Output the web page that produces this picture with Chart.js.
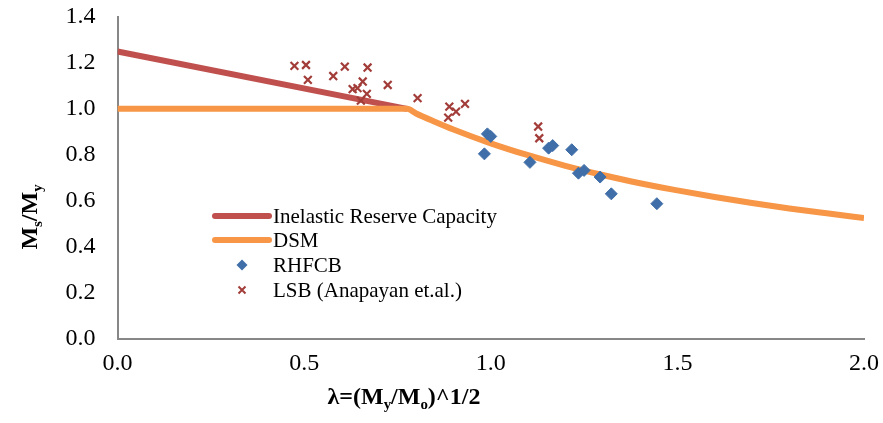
<!DOCTYPE html>
<html>
<head>
<meta charset="utf-8">
<script src="https://cdn.jsdelivr.net/npm/chart.js@4.4.0/dist/chart.umd.min.js"></script>
<style>
    body { margin: 0; background: #fff; }
    #wrap { width: 883px; height: 423px; }
</style>
</head>
<body>
<div id="wrap"><canvas id="msChart" width="883" height="423"></canvas></div>
<script>
// Inelastic Reserve Capacity line
var irX = [0, 0.776];
var irY = [1.25, 1.0];

// DSM curve
var dsmX = [0, 0.776, 0.8, 0.85, 0.9, 1.0, 1.1, 1.2, 1.3, 1.4, 1.5, 1.6, 1.7, 1.8, 1.9, 2.0];
var dsmY = [1.0, 1.0, 0.98, 0.944, 0.91, 0.85, 0.798, 0.752, 0.712, 0.676, 0.645, 0.616, 0.590, 0.566, 0.545, 0.525];

// RHFCB test results
var rhfcbX = [0.983, 0.991, 1.0, 1.105, 1.155, 1.166, 1.217, 1.235, 1.25, 1.293, 1.323, 1.445];
var rhfcbY = [0.804, 0.891, 0.88, 0.767, 0.829, 0.84, 0.822, 0.72, 0.732, 0.703, 0.63, 0.587];

// LSB (Anapayan et.al.)
var lsbX = [0.474, 0.505, 0.51, 0.578, 0.609, 0.67, 0.657, 0.63, 0.643, 0.668, 0.652, 0.724, 0.804, 0.889, 0.907, 0.931, 0.886, 1.127, 1.13];
var lsbY = [1.187, 1.191, 1.126, 1.143, 1.184, 1.18, 1.119, 1.086, 1.09, 1.065, 1.036, 1.104, 1.047, 1.01, 0.988, 1.022, 0.962, 0.923, 0.872];

var xTicks = [0, 0.5, 1.0, 1.5, 2.0];
var yTicks = [0, 0.2, 0.4, 0.6, 0.8, 1.0, 1.2, 1.4];

var seriesNames = ['Inelastic Reserve Capacity', 'DSM', 'RHFCB', 'LSB (Anapayan et.al.)'];

function toPoints(xs, ys) {
    return xs.map(function(x, i) { return {x: x, y: ys[i]}; });
}

var serif = '"Liberation Serif", "Times New Roman", serif';

// draws text pieces, some of them as subscripts
function drawRich(ctx, parts, size, x, y) {
    var total = 0;
    parts.forEach(function(p) {
        ctx.font = 'bold ' + (p.sub ? size * 0.62 : size) + 'px ' + serif;
        p.w = ctx.measureText(p.t).width;
        total += p.w;
    });
    var cx = x - total / 2;
    parts.forEach(function(p) {
        ctx.font = 'bold ' + (p.sub ? size * 0.62 : size) + 'px ' + serif;
        ctx.fillText(p.t, cx, p.sub ? y + size * 0.22 : y);
        cx += p.w;
    });
}

var axisTitles = {
    id: 'axisTitles',
    afterDraw: function(chart) {
        var ctx = chart.ctx;
        ctx.save();
        ctx.fillStyle = '#000';
        ctx.textBaseline = 'alphabetic';
        ctx.textAlign = 'left';
        drawRich(ctx, [
            {t: 'λ=(M'}, {t: 'y', sub: true}, {t: '/M'}, {t: 'o', sub: true}, {t: ')^1/2'}
        ], 24, 404, 404);
        ctx.translate(37, 217);
        ctx.rotate(-Math.PI / 2);
        drawRich(ctx, [
            {t: 'M'}, {t: 's', sub: true}, {t: '/M'}, {t: 'y', sub: true}
        ], 24, 0, 0);
        ctx.restore();
    }
};

var innerLegend = {
    id: 'innerLegend',
    afterDraw: function(chart) {
        var ctx = chart.ctx;
        var rows = [216, 240, 265, 290];
        ctx.save();
        ctx.font = '21px ' + serif;
        ctx.textBaseline = 'middle';
        ctx.textAlign = 'left';
        chart.data.datasets.forEach(function(ds, i) {
            var y = rows[i];
            if (ds.type === 'line') {
                ctx.strokeStyle = ds.borderColor;
                ctx.lineWidth = 6;
                ctx.lineCap = 'round';
                ctx.beginPath();
                ctx.moveTo(215, y);
                ctx.lineTo(269, y);
                ctx.stroke();
            } else if (ds.pointStyle === 'rectRot') {
                ctx.fillStyle = ds.backgroundColor;
                ctx.beginPath();
                ctx.moveTo(242, y - 5.5);
                ctx.lineTo(247.5, y);
                ctx.lineTo(242, y + 5.5);
                ctx.lineTo(236.5, y);
                ctx.closePath();
                ctx.fill();
            } else {
                ctx.strokeStyle = ds.borderColor;
                ctx.lineWidth = 2;
                ctx.lineCap = 'butt';
                ctx.beginPath();
                ctx.moveTo(238.5, y - 3.5); ctx.lineTo(245.5, y + 3.5);
                ctx.moveTo(245.5, y - 3.5); ctx.lineTo(238.5, y + 3.5);
                ctx.stroke();
            }
            ctx.fillStyle = '#000';
            ctx.fillText(ds.label, 273, y + 1);
        });
        ctx.restore();
    }
};

var ctx = document.getElementById('msChart').getContext('2d');
var msChart = new Chart(ctx, {
    data: {
        datasets: [
            {
                type: 'line',
                label: seriesNames[0],
                data: toPoints(irX, irY),
                borderColor: '#C0504D',
                borderWidth: 6,
                pointRadius: 0,
                tension: 0,
                fill: false,
                order: 4
            },
            {
                type: 'line',
                label: seriesNames[1],
                data: toPoints(dsmX, dsmY),
                borderColor: '#F79646',
                borderWidth: 6,
                borderJoinStyle: 'round',
                pointRadius: 0,
                cubicInterpolationMode: 'monotone',
                fill: false,
                order: 3
            },
            {
                type: 'scatter',
                label: seriesNames[2],
                data: toPoints(rhfcbX, rhfcbY),
                pointStyle: 'rectRot',
                pointRadius: 6,
                backgroundColor: '#3F6EA8',
                borderColor: '#3F6EA8',
                borderWidth: 1,
                order: 2
            },
            {
                type: 'scatter',
                label: seriesNames[3],
                data: toPoints(lsbX, lsbY),
                pointStyle: 'crossRot',
                pointRadius: 5.5,
                backgroundColor: '#A23D3A',
                borderColor: '#A23D3A',
                borderWidth: 2.2,
                order: 1
            }
        ]
    },
    options: {
        responsive: false,
        animation: false,
        layout: {
            padding: {top: 17, right: 19, left: 0, bottom: 0}
        },
        plugins: {
            legend: {display: false},
            tooltip: {enabled: false}
        },
        scales: {
            x: {
                type: 'linear',
                min: 0,
                max: 2,
                afterBuildTicks: function(scale) {
                    scale.ticks = xTicks.map(function(v) { return {value: v}; });
                },
                afterFit: function(scale) {
                    scale.height = 84.5;
                    scale.paddingLeft = 0;
                    scale.paddingRight = 0;
                },
                grid: {display: false, drawTicks: false},
                border: {display: true, color: '#878787', width: 2},
                ticks: {
                    padding: 11,
                    color: '#000',
                    font: {family: serif, size: 24},
                    callback: function(v) { return Number(v).toFixed(1); }
                }
            },
            y: {
                type: 'linear',
                min: 0,
                max: 1.4,
                afterBuildTicks: function(scale) {
                    scale.ticks = yTicks.map(function(v) { return {value: v}; });
                },
                afterFit: function(scale) {
                    scale.width = 117.5;
                    scale.paddingTop = 0;
                    scale.paddingBottom = 0;
                },
                grid: {display: false, drawTicks: false},
                border: {display: true, color: '#878787', width: 2},
                ticks: {
                    padding: 22,
                    color: '#000',
                    font: {family: serif, size: 24},
                    callback: function(v) { return Number(v).toFixed(1); }
                }
            }
        }
    },
    plugins: [axisTitles, innerLegend]
});
</script>
</body>
</html>
